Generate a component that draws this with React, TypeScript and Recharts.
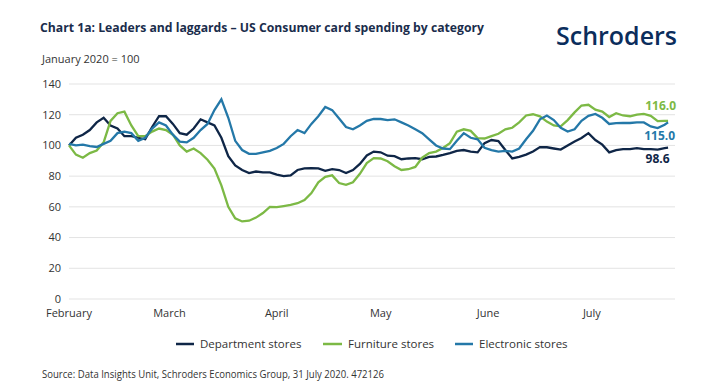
import { LineChart, Line, XAxis, YAxis, CartesianGrid } from "recharts";

// day index from 1 Feb 2020
const days = [
  0, 2, 4, 6, 8, 10, 12, 14, 16, 18, 20, 22, 24, 26, 28, 30, 32, 34, 36, 38,
  40, 42, 44, 46, 48, 50, 52, 54, 56, 58, 60, 62, 64, 66, 68, 70, 72, 74, 76, 78,
  80, 82, 84, 86, 88, 90, 92, 94, 96, 98, 100, 102, 104, 106, 108, 110, 112, 114, 116, 118,
  120, 122, 124, 126, 128, 130, 132, 134, 136, 138, 140, 142, 144, 146, 148, 150, 152, 154, 156, 158,
  160, 162, 164, 166, 168, 170, 172, 173,
];

const department = [
  100, 105, 107, 110, 115, 118, 113, 111, 106, 106,
  105, 104, 112, 119, 119, 114, 108, 107, 111, 117,
  115, 113, 105, 93, 87, 84, 82, 83, 82.5, 82.5,
  81, 80, 80.5, 84, 85, 85.2, 85, 83.5, 84.6, 84,
  82, 84, 88, 93.5, 96, 95.5, 93.3, 93, 91, 91.5,
  91.7, 91, 92.5, 92.8, 93.8, 95, 96.5, 97, 96, 95.5,
  101.5, 103.5, 102.8, 97, 91.5, 92.5, 94, 96, 98.9, 98.8,
  98, 97.3, 100, 102.6, 104.8, 108, 103.5, 100.5, 95.5, 97,
  97.6, 97.6, 98.3, 97.6, 97.6, 97.3, 98.3, 98.6,
];

const furniture = [
  100, 94, 92, 95, 96.7, 102, 116, 121, 122, 113,
  106, 106, 109, 111, 110, 107, 100, 96, 98, 95,
  90.7, 85, 74, 60, 52.5, 50.5, 51, 53, 56, 60,
  59.8, 60.5, 61.3, 62.4, 64.5, 69, 76, 79.5, 80.5, 75.5,
  74.3, 76, 81.5, 88.5, 91.7, 91.5, 89.7, 86.5, 84, 84.5,
  86, 92, 95, 96, 98.3, 101.5, 109, 110.5, 109.5, 104.8,
  104.5, 106, 107.6, 110.5, 111.5, 115, 119.5, 120.3, 118.9, 115.5,
  113, 112.4, 116.5, 121.5, 126, 126.5, 123.3, 122, 118.5, 121,
  119.5, 119, 120, 120.5, 119.3, 115.8, 116, 116,
];

const electronic = [
  101, 100, 100.5, 99.5, 99, 101, 103, 108, 109, 108,
  103, 105, 111, 115, 113, 107, 102.5, 102, 105, 110,
  114, 123, 130, 118, 103, 97, 94.5, 94.5, 95.5, 96.5,
  98.3, 101, 106, 110, 108, 114, 119, 125, 123, 117.5,
  112, 110.5, 113, 116, 117.3, 117.2, 116.5, 117, 115, 113,
  110.5, 108, 104, 100, 98, 97.6, 103, 108, 105, 104,
  98.5, 97, 96, 96.5, 96, 98, 104, 109.5, 117, 119.5,
  116.5, 111.5, 109, 110.5, 116, 119.3, 120.5, 118, 114, 114.5,
  114.6, 114.6, 115, 115, 112.4, 111.3, 113.5, 115,
];

const monthTicks = [0, 29, 60, 90, 121, 151];
const monthLabels = ["February", "March", "April", "May", "June", "July"];
const yTicks = [0, 20, 40, 60, 80, 100, 120, 140];

const NAVY = "#0f2647";
const GREEN = "#7cb945";
const BLUE = "#2478a8";
const FONT = "'Open Sans', sans-serif";

const data = days.map((d, i) => ({
  day: d,
  dept: department[i],
  furn: furniture[i],
  elec: electronic[i],
}));

const endLabel = (color: string, dx: number, dy: number) => (p: any) => {
  if (p.index !== days.length - 1) return null;
  return (
    <text
      x={p.x + dx}
      y={p.y + dy}
      textAnchor="end"
      fill={color}
      fontSize={12}
      fontWeight={700}
      fontFamily={FONT}
    >
      {Number(p.value).toFixed(1)}
    </text>
  );
};

export default function App() {
  const tick = { fill: "#333", fontSize: 11, fontFamily: FONT };
  return (
    <div style={{ position: "absolute", left: 0, top: 0, width: 713, height: 387, background: "#fff" }}>
      <LineChart
        width={713}
        height={387}
        data={data}
        margin={{ top: 84, right: 38, bottom: 58, left: 20 }}
      >
        <CartesianGrid vertical={false} stroke="#e3e3e3" />
        <XAxis
          dataKey="day"
          type="number"
          domain={[0, 175]}
          ticks={monthTicks}
          tickFormatter={(v) => monthLabels[monthTicks.indexOf(v)]}
          axisLine={false}
          tickLine={false}
          tickSize={0}
          tickMargin={10}
          tick={tick}
          height={30}
        />
        <YAxis
          domain={[0, 140]}
          ticks={yTicks}
          axisLine={false}
          tickLine={false}
          tickSize={0}
          tickMargin={8}
          tick={tick}
          width={49}
        />
        <Line dataKey="dept" stroke={NAVY} strokeWidth={2.3} dot={false} isAnimationActive={false} label={endLabel(NAVY, 1.5, 15.5)} />
        <Line dataKey="furn" stroke={GREEN} strokeWidth={2.3} dot={false} isAnimationActive={false} label={endLabel(GREEN, 8, -11)} />
        <Line dataKey="elec" stroke={BLUE} strokeWidth={2.3} dot={false} isAnimationActive={false} label={endLabel(BLUE, 7, 18)} />
      </LineChart>

      <svg
        width={713}
        height={387}
        style={{ position: "absolute", left: 0, top: 0, pointerEvents: "none" }}
        fontFamily={FONT}
      >
        <text x={40} y={32} fontSize={13} fontWeight={700} fill="#1a2d4c" textLength={444} lengthAdjust="spacingAndGlyphs">
          Chart 1a: Leaders and laggards – US Consumer card spending by category
        </text>
        <text x={556} y={45} fontSize={26} fontWeight={600} fill="#0b2d5c" textLength={121} lengthAdjust="spacingAndGlyphs">
          Schroders
        </text>
        <text x={42} y={63} fontSize={11} fill="#333">
          January 2020 = 100
        </text>

        <line x1={176} x2={194} y1={344} y2={344} stroke={NAVY} strokeWidth={2.5} />
        <text x={200} y={348} fontSize={11.5} fill="#333">Department stores</text>
        <line x1={323} x2={342} y1={344} y2={344} stroke={GREEN} strokeWidth={2.5} />
        <text x={348} y={348} fontSize={11.5} fill="#333">Furniture stores</text>
        <line x1={455} x2={473} y1={344} y2={344} stroke={BLUE} strokeWidth={2.5} />
        <text x={479} y={348} fontSize={11.5} fill="#333">Electronic stores</text>

        <text x={42} y={378} fontSize={10} fill="#333" textLength={342} lengthAdjust="spacingAndGlyphs">
          Source: Data Insights Unit, Schroders Economics Group, 31 July 2020. 472126
        </text>
      </svg>
    </div>
  );
}
